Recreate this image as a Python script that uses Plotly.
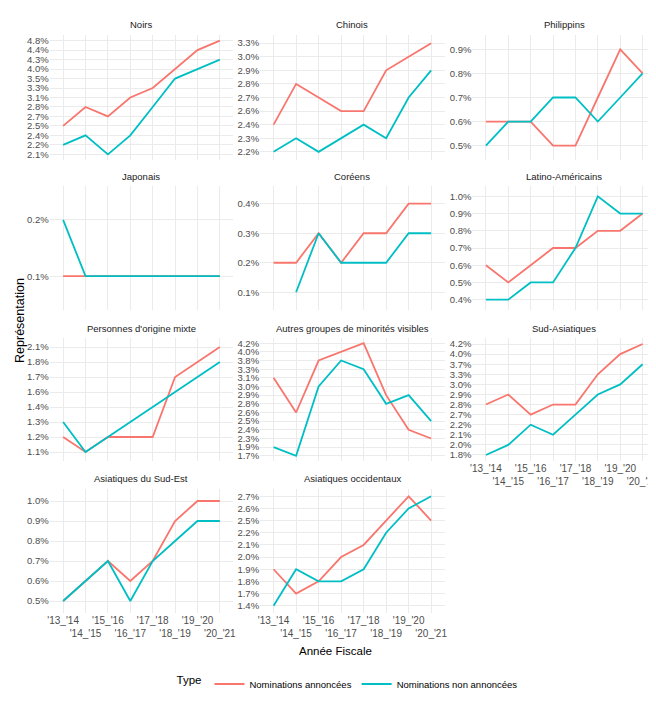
import plotly.graph_objects as go
from plotly.subplots import make_subplots

years = ["'13_'14", "'14_'15", "'15_'16", "'16_'17", "'17_'18", "'18_'19", "'19_'20", "'20_'21"]

groups = ["Noirs", "Chinois", "Philippins", "Japonais", "Coréens", "Latino-Américains",
          "Personnes d'origine mixte", "Autres groupes de minorités visibles", "Sud-Asiatiques",
          "Asiatiques du Sud-Est", "Asiatiques occidentaux"]

# Nominations annoncées (percent)
noirs_ann = [2.5, 2.8, 2.7, 3.1, 3.3, 4.0, 4.4, 4.8]
chinois_ann = [2.4, 2.8, 2.7, 2.6, 2.6, 2.9, 3.0, 3.3]
philippins_ann = [0.6, 0.6, 0.6, 0.5, 0.5, 0.7, 0.9, 0.8]
japonais_ann = [0.1, 0.1, 0.1, 0.1, 0.1, 0.1, 0.1, 0.1]
coreens_ann = [0.2, 0.2, 0.3, 0.2, 0.3, 0.3, 0.4, 0.4]
latino_ann = [0.6, 0.5, 0.6, 0.7, 0.7, 0.8, 0.8, 0.9]
mixte_ann = [1.2, 1.1, 1.2, 1.2, 1.2, 1.7, 1.8, 2.1]
autres_ann = [3.1, 2.6, 3.8, 4.0, 4.2, 2.9, 2.4, 2.3]
sudas_ann = [2.8, 2.9, 2.7, 2.8, 2.8, 3.3, 4.0, 4.2]
sudest_ann = [0.5, 0.6, 0.7, 0.6, 0.7, 0.9, 1.0, 1.0]
occid_ann = [1.9, 1.7, 1.8, 2.0, 2.1, 2.5, 2.7, 2.5]

# Nominations non annoncées (percent)
noirs_non = [2.2, 2.4, 2.1, 2.4, 2.8, 3.5, 4.0, 4.3]
chinois_non = [2.2, 2.3, 2.2, 2.3, 2.4, 2.3, 2.7, 2.9]
philippins_non = [0.5, 0.6, 0.6, 0.7, 0.7, 0.6, 0.7, 0.8]
japonais_non = [0.2, 0.1, 0.1, 0.1, 0.1, 0.1, 0.1, 0.1]
coreens_non = [None, 0.1, 0.3, 0.2, 0.2, 0.2, 0.3, 0.3]
latino_non = [0.4, 0.4, 0.5, 0.5, 0.7, 1.0, 0.9, 0.9]
mixte_non = [1.3, 1.1, 1.2, 1.3, 1.4, 1.6, 1.7, 1.8]
autres_non = [1.9, 1.7, 3.0, 3.8, 3.3, 2.8, 2.9, 2.5]
sudas_non = [1.8, 2.0, 2.2, 2.1, 2.7, 2.9, 3.0, 3.7]
sudest_non = [0.5, 0.6, 0.7, 0.5, 0.7, 0.8, 0.9, 0.9]
occid_non = [1.4, 1.9, 1.8, 1.8, 1.9, 2.2, 2.6, 2.7]

ann_series = [noirs_ann, chinois_ann, philippins_ann, japonais_ann, coreens_ann, latino_ann,
              mixte_ann, autres_ann, sudas_ann, sudest_ann, occid_ann]
non_series = [noirs_non, chinois_non, philippins_non, japonais_non, coreens_non, latino_non,
              mixte_non, autres_non, sudas_non, sudest_non, occid_non]

RED = "#F8766D"
TEAL = "#00BFC4"
FONT = "Liberation Sans Narrow, Liberation Sans, Arial, sans-serif"
W, H = 656, 702

col_px = [(40, 225), (252, 438), (466, 651)]
row_px = [(27, 152), (178, 302), (330, 453), (481, 605)]

fig = make_subplots(rows=4, cols=3)


def fmt(v):
    return None if v is None else f"{v:.1f}%"


annotations = []
for i, g in enumerate(groups):
    r, c = divmod(i, 3)
    k = i + 1
    a = [fmt(v) for v in ann_series[i]]
    n = [fmt(v) for v in non_series[i]]
    vals = sorted({v for v in ann_series[i] + non_series[i] if v is not None})
    cats = [fmt(v) for v in vals]
    fig.add_trace(go.Scatter(x=years, y=a, mode="lines", line=dict(color=RED, width=1.8),
                             name="Nominations annoncées", legendgroup="a", showlegend=(i == 0)),
                  row=r + 1, col=c + 1)
    fig.add_trace(go.Scatter(x=years, y=n, mode="lines", line=dict(color=TEAL, width=1.8),
                             name="Nominations non annoncées", legendgroup="n", showlegend=(i == 0)),
                  row=r + 1, col=c + 1)
    x0, x1 = col_px[c]
    y0, y1 = row_px[r]
    bottom_panel = (r == 3) or (r == 2 and c == 2)
    xname = "xaxis" if k == 1 else f"xaxis{k}"
    yname = "yaxis" if k == 1 else f"yaxis{k}"
    fig.layout[xname].update(
        domain=[x0 / W, x1 / W], type="category", categoryorder="array", categoryarray=years,
        range=[-0.6, len(years) - 0.4], showgrid=True, gridcolor="#EBEBEB", gridwidth=1,
        zeroline=False, showline=False, ticks="",
        showticklabels=bottom_panel, tickmode="array", tickvals=years,
        ticktext=[y if j % 2 == 0 else "<br>" + y for j, y in enumerate(years)],
        tickfont=dict(family=FONT, size=10, color="#4D4D4D"), tickangle=0,
    )
    fig.layout[yname].update(
        domain=[1 - y1 / H, 1 - y0 / H], type="category", categoryorder="array", categoryarray=cats,
        range=[-0.6, len(cats) - 0.4], showgrid=True, gridcolor="#EBEBEB", gridwidth=1,
        zeroline=False, showline=False, ticks="", tickmode="array", tickvals=cats, ticktext=cats,
        tickfont=dict(family=FONT, size=9.5, color="#4D4D4D"),
    )
    annotations.append(dict(text=g, x=(x0 + x1) / 2 / W, y=1 - (y0 - 10) / H, xref="paper", yref="paper",
                            showarrow=False, xanchor="center", yanchor="middle",
                            font=dict(family=FONT, size=9.5, color="#1A1A1A")))

# hide the empty 12th cell
fig.layout["xaxis12"].update(visible=False, domain=[col_px[2][0] / W, col_px[2][1] / W])
fig.layout["yaxis12"].update(visible=False, domain=[1 - row_px[3][1] / H, 1 - row_px[3][0] / H])

annotations.append(dict(text="Année Fiscale", x=0.5, y=1 - 643 / H, xref="paper", yref="paper",
                        showarrow=False, xanchor="center", yanchor="middle",
                        font=dict(family=FONT, size=11.5, color="#000000")))
annotations.append(dict(text="Représentation", x=10 / W, y=1 - 312 / H, xref="paper", yref="paper",
                        showarrow=False, xanchor="center", yanchor="middle", textangle=-90,
                        font=dict(family=FONT, size=12.5, color="#000000")))

fig.update_layout(
    width=W, height=H, margin=dict(l=0, r=0, t=0, b=0),
    paper_bgcolor="white", plot_bgcolor="white",
    annotations=annotations,
    legend=dict(orientation="h", x=0.52, xanchor="center", y=1 - 676 / H, yanchor="middle",
                title=dict(text="Type", side="left", font=dict(family=FONT, size=11.5, color="#000000")),
                font=dict(family=FONT, size=9.5, color="#000000")),
    font=dict(family=FONT),
)

fig.write_html("out.html")
